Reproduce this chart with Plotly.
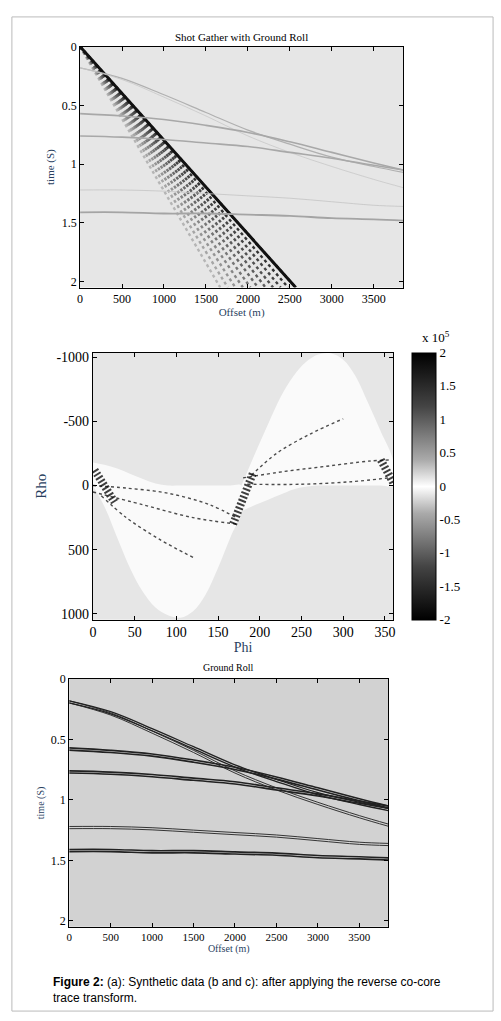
import plotly.graph_objects as go

W, H = 501, 1021

# reflection events (a)/(c): offset (m) -> time (s)
offsets = [0, 500, 1000, 1500, 2000, 2500, 3000, 3500, 3850]
ev1 = [0.18, 0.27, 0.41, 0.56, 0.71, 0.83, 0.94, 1.02, 1.07]
ev1b = [0.18, 0.28, 0.43, 0.59, 0.76, 0.90, 1.02, 1.13, 1.20]
ev2 = [0.57, 0.59, 0.62, 0.67, 0.73, 0.81, 0.90, 0.99, 1.05]
ev3 = [0.76, 0.77, 0.79, 0.82, 0.85, 0.90, 0.95, 1.01, 1.05]
ev4 = [1.22, 1.22, 1.23, 1.25, 1.27, 1.29, 1.32, 1.35, 1.36]
ev5 = [1.41, 1.41, 1.42, 1.42, 1.43, 1.44, 1.46, 1.47, 1.48]

# ground roll fan: offset reached at t=2.05 s for each wave-train line
gr_end = [2570, 2480, 2390, 2300, 2210, 2120, 2030, 1940, 1850, 1760, 1670]
gr_grey = ["#111111", "#333333", "#444444", "#505050", "#5c5c5c", "#686868",
           "#767676", "#858585", "#959595", "#a5a5a5", "#b5b5b5"]

# panel (b): boundaries of the transform support (phi in deg, rho)
phi_l = [0, 15, 30, 45, 60, 75, 90, 105, 120, 135, 150, 165, 178]
top_l = [-180, -160, -130, -90, -50, -15, 0, 0, 0, 0, 0, 0, 0]
bot_l = [0, 180, 420, 650, 830, 950, 1010, 1030, 980, 850, 640, 400, 200]
phi_r = [178, 195, 210, 225, 240, 255, 270, 285, 300, 315, 330, 345, 360]
top_r = [0, -260, -480, -690, -850, -960, -1020, -1030, -980, -850, -640, -420, -190]
bot_r = [200, 150, 110, 70, 30, 10, 0, 0, 0, 0, 0, 0, 0]

# dark energy streaks in (b)
streak_phi = [[0, 40, 90, 140, 172], [180, 230, 280, 330, 358], [0, 60, 120, 172],
              [185, 250, 310, 355], [10, 40, 80, 120], [190, 220, 260, 300]]
streak_rho = [[0, 20, 60, 150, 250], [-60, -110, -150, -190, -200], [50, 150, 250, 300],
              [-10, -10, -30, -60], [80, 250, 420, 560], [-80, -250, -400, -520]]
clu_phi = [[2, 8, 14, 20, 26], [168, 174, 180, 186, 192], [345, 350, 355, 360]]
clu_rho = [[-120, -50, 20, 80, 130], [300, 200, 80, -30, -100], [-200, -150, -80, -20]]

cb_ticks = [-2, -1.5, -1, -0.5, 0, 0.5, 1, 1.5, 2]
rho_ticks = [-1000, -500, 0, 500, 1000]

fig = go.Figure()

def dom(px0, px1, n):
    return [px0 / n, px1 / n]

def ydom(py_top, py_bot):
    return [1 - py_bot / H, 1 - py_top / H]

SERIF = "Liberation Serif"

# ---- panel a ----
for x1, c in zip(gr_end[::-1], gr_grey[::-1]):
    fig.add_trace(go.Scatter(x=[0, x1], y=[0, 2.05], mode="lines",
                             line=dict(color=c, width=2.4, dash="dot"),
                             xaxis="x", yaxis="y", showlegend=False))
fig.add_trace(go.Scatter(x=[0, gr_end[0]], y=[0, 2.05], mode="lines",
                         line=dict(color="#111111", width=3),
                         xaxis="x", yaxis="y", showlegend=False))
for ev, w, c in [(ev1, 1.2, "#b0b0b0"), (ev1b, 0.8, "#c8c8c8"), (ev2, 1.6, "#a8a8a8"),
                 (ev3, 1.6, "#a8a8a8"), (ev4, 0.8, "#c4c4c4"), (ev5, 1.8, "#a4a4a4")]:
    fig.add_trace(go.Scatter(x=offsets, y=ev, mode="lines", line=dict(color=c, width=w, shape="spline"),
                             xaxis="x", yaxis="y", showlegend=False))

# ---- panel b ----
fig.add_trace(go.Scatter(x=phi_l + phi_l[::-1], y=top_l + bot_l[::-1], fill="toself",
                         fillcolor="#fafafa", line=dict(width=0, shape="spline"), mode="lines",
                         xaxis="x2", yaxis="y2", showlegend=False))
fig.add_trace(go.Scatter(x=phi_r + phi_r[::-1], y=top_r + bot_r[::-1], fill="toself",
                         fillcolor="#fafafa", line=dict(width=0, shape="spline"), mode="lines",
                         xaxis="x2", yaxis="y2", showlegend=False))
for px_, ry in zip(streak_phi, streak_rho):
    fig.add_trace(go.Scatter(x=px_, y=ry, mode="lines",
                             line=dict(color="rgba(0,0,0,0.7)", width=1.4, shape="spline", dash="dot"),
                             xaxis="x2", yaxis="y2", showlegend=False))
for px_, ry in zip(clu_phi, clu_rho):
    fig.add_trace(go.Scatter(x=px_, y=ry, mode="lines",
                             line=dict(color="rgba(0,0,0,0.75)", width=8, dash="2px,2px"),
                             xaxis="x2", yaxis="y2", showlegend=False))
cb_scale = [[0, "#000000"], [0.2, "#444444"], [0.4, "#aaaaaa"], [0.5, "#ffffff"],
            [0.6, "#aaaaaa"], [0.8, "#444444"], [1, "#000000"]]
fig.add_trace(go.Scatter(x=[None, None], y=[None, None], mode="markers", xaxis="x2", yaxis="y2",
                         marker=dict(color=[-2, 2], cmin=-2, cmax=2, colorscale=cb_scale, showscale=True,
                                     colorbar=dict(x=413 / W, xanchor="left", y=1 - 618 / H, yanchor="bottom",
                                                   len=269 / H, lenmode="fraction", thickness=24,
                                                   outlinecolor="black", outlinewidth=1,
                                                   tickvals=cb_ticks, ticktext=[str(t) for t in cb_ticks],
                                                   tickfont=dict(family=SERIF, size=13, color="black"),
                                                   ticks="", ypad=0, xpad=0)),
                         showlegend=False))

# ---- panel c ----
for ev, w in [(ev1, 1.3), (ev1b, 0.9), (ev2, 1.6), (ev3, 1.6), (ev4, 0.9), (ev5, 1.6)]:
    for d in (0, 0.018):
        fig.add_trace(go.Scatter(x=offsets, y=[v + d for v in ev], mode="lines",
                                 line=dict(color="#222222", width=w, shape="spline"),
                                 xaxis="x3", yaxis="y3", showlegend=False))

ax = dict(showgrid=False, zeroline=False, showline=True, mirror="ticks", linecolor="black",
          ticks="inside", ticklen=4, tickcolor="black", tickfont=dict(family=SERIF, size=12, color="black"))
fig.update_layout(
    width=W, height=H, margin=dict(l=0, r=0, t=0, b=0), paper_bgcolor="white",
    plot_bgcolor="#e6e6e6",
    xaxis=dict(ax, domain=dom(77, 404, W), range=[0, 3850], anchor="y", dtick=500,
               title=dict(text="Offset (m)", font=dict(family=SERIF, size=11), standoff=2)),
    yaxis=dict(ax, domain=ydom(40, 283), range=[2.05, 0], anchor="x", tickvals=[0, 0.5, 1, 1.5, 2],
               ticktext=["0", "0.5", "1", "1.5", "2"],
               title=dict(text="time (S)", font=dict(family=SERIF, size=11), standoff=4)),
    xaxis2=dict(ax, domain=dom(90, 394, W), range=[0, 360], anchor="y2", dtick=50,
                tickfont=dict(family=SERIF, size=14, color="black"),
                title=dict(text="Phi", font=dict(family=SERIF, size=14), standoff=0)),
    yaxis2=dict(ax, domain=ydom(349, 618), range=[1044, -1033], anchor="x2", tickvals=rho_ticks,
                ticktext=[str(t) for t in rho_ticks],
                tickfont=dict(family=SERIF, size=14, color="black"),
                title=dict(text="Rho", font=dict(family=SERIF, size=15), standoff=6)),
    xaxis3=dict(ax, domain=dom(66, 389, W), range=[0, 3850], anchor="y3", dtick=500,
                tickfont=dict(family=SERIF, size=11, color="black"),
                title=dict(text="Offset (m)", font=dict(family=SERIF, size=10), standoff=2)),
    yaxis3=dict(ax, domain=ydom(678, 928), range=[2.05, 0], anchor="x3", tickvals=[0, 0.5, 1, 1.5, 2],
                ticktext=["0", "0.5", "1", "1.5", "2"], tickfont=dict(family=SERIF, size=12, color="black"),
                title=dict(text="time (S)", font=dict(family=SERIF, size=10), standoff=4)),
    shapes=[
        dict(type="rect", xref="paper", yref="paper", x0=8 / W, x1=495 / W, y0=1 - 1013 / H, y1=1 - 10 / H,
             line=dict(color="#bbbbbb", width=1), layer="below"),
        dict(type="rect", xref="x3", yref="y3", x0=0, x1=3850, y0=0, y1=2.05,
             fillcolor="#d2d2d2", line=dict(width=0), layer="below"),
        dict(type="rect", xref="x2", yref="y2", x0=0, x1=360, y0=-1033, y1=1044,
             fillcolor="#e6e6e6", line=dict(width=0), layer="below"),
    ],
    annotations=[
        dict(text="Shot Gather with Ground Roll", x=240 / W, y=1 - 22 / H, xref="paper", yref="paper",
             showarrow=False, font=dict(family=SERIF, size=11, color="black")),
        dict(text="x 10<sup>5</sup>", x=437 / W, y=1 - 343 / H, xref="paper", yref="paper", xanchor="center",
             yanchor="bottom", showarrow=False, font=dict(family=SERIF, size=13, color="black")),
        dict(text="Ground Roll", x=227 / W, y=1 - 666 / H, xref="paper", yref="paper",
             showarrow=False, font=dict(family=SERIF, size=10, color="black")),
        dict(text="<b>Figure 2:</b> (a): Synthetic data (b and c): after applying the reverse co-core<br>trace transform.",
             x=48 / W, y=1 - 975 / H, xref="paper", yref="paper", xanchor="left", yanchor="top", align="left",
             showarrow=False, font=dict(family="Liberation Sans", size=12, color="black")),
    ],
)

fig.write_html("out.html", config={"displayModeBar": False},
               post_script="document.body.style.margin='0';document.body.style.padding='0';")
